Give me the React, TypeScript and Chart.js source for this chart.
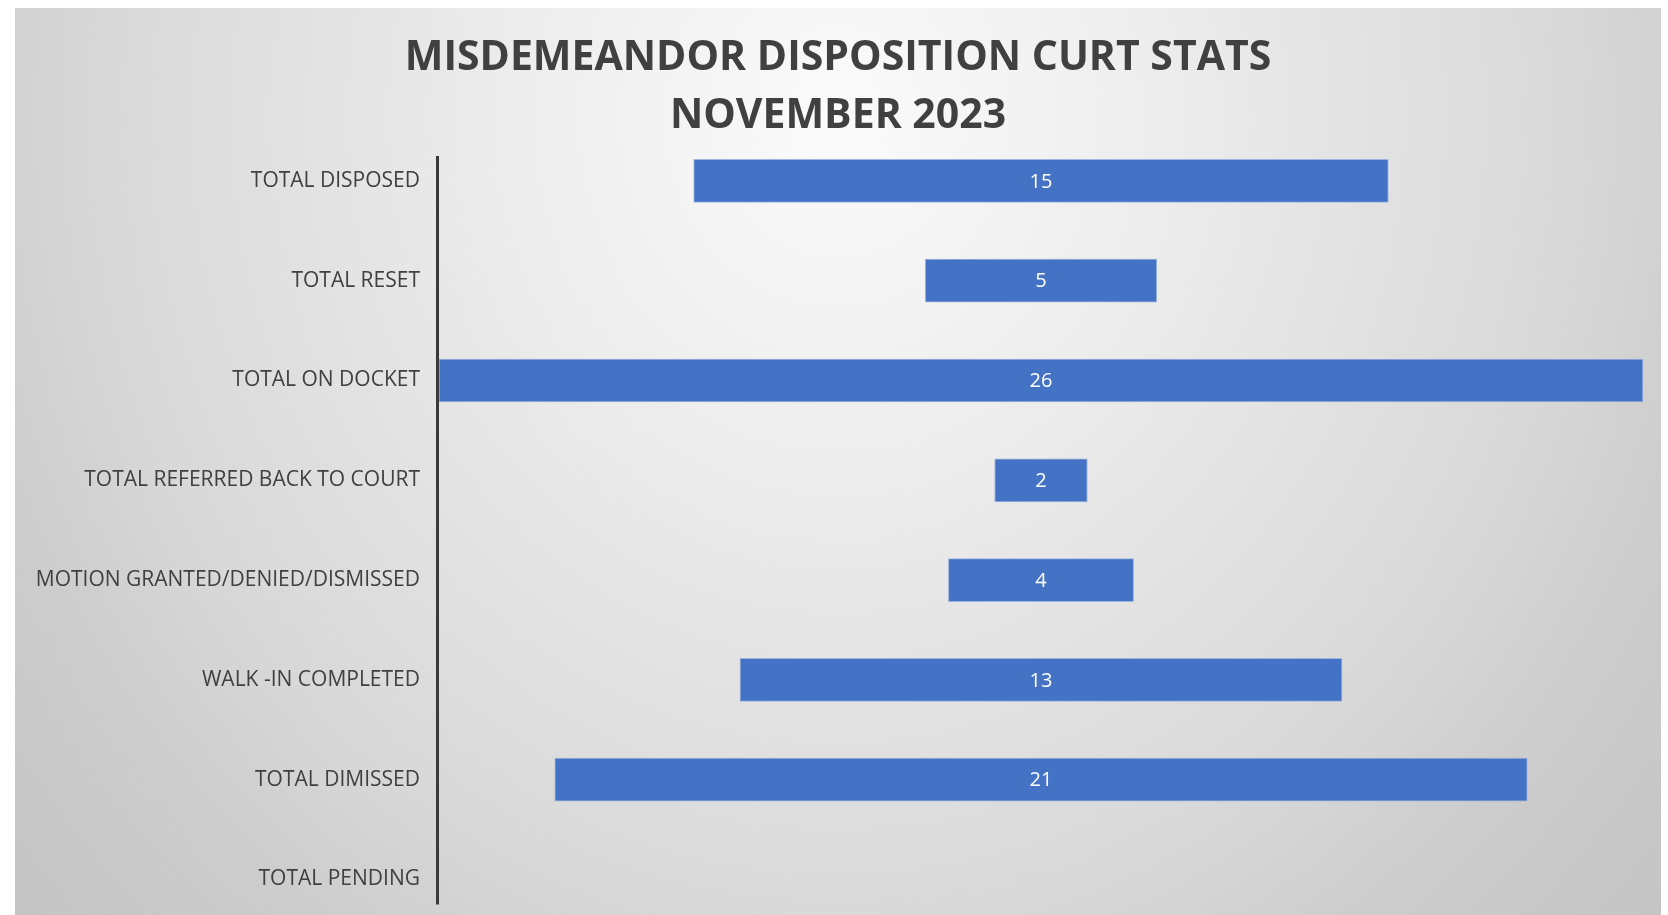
import React, { useEffect, useRef } from "react";
import { Chart, registerables } from "chart.js";

Chart.register(...registerables);

const TITLE_LINES = ["MISDEMEANDOR DISPOSITION CURT STATS", "NOVEMBER 2023"];
const CATEGORIES = [
  "TOTAL DISPOSED",
  "TOTAL RESET",
  "TOTAL ON DOCKET",
  "TOTAL REFERRED BACK TO COURT",
  "MOTION GRANTED/DENIED/DISMISSED",
  "WALK -IN COMPLETED",
  "TOTAL DIMISSED",
  "TOTAL PENDING",
];
const VALUES = [15, 5, 26, 2, 4, 13, 21, 0];
const X_HALF_RANGE = 13;

const FONT = "'Open Sans', 'Noto Sans', sans-serif";
const TEXT_COLOR = "#404040";
const BAR_COLOR = "#4472C4";

const W = 1646;
const H = 945;

export default function App() {
  const ref = useRef<HTMLCanvasElement | null>(null);

  useEffect(() => {
    if (!ref.current) return;

    const extras = {
      id: "extras",
      afterDatasetsDraw(chart: any) {
        const { ctx, chartArea } = chart;
        const meta = chart.getDatasetMeta(0);
        ctx.save();
        // data labels
        ctx.fillStyle = "#ffffff";
        ctx.font = `20px ${FONT}`;
        ctx.textAlign = "center";
        ctx.textBaseline = "middle";
        meta.data.forEach((bar: any, i: number) => {
          if (!VALUES[i]) return;
          ctx.fillText(String(VALUES[i]), (bar.x + bar.base) / 2, bar.y + 1);
        });
        // axis line
        const band = (chartArea.bottom - chartArea.top) / CATEGORIES.length;
        ctx.strokeStyle = "#3a3a3a";
        ctx.lineWidth = 3;
        ctx.beginPath();
        ctx.moveTo(chartArea.left - 1.5, chartArea.top + band * 0.25);
        ctx.lineTo(chartArea.left - 1.5, chartArea.bottom - band * 0.25);
        ctx.stroke();
        // title
        ctx.fillStyle = TEXT_COLOR;
        ctx.font = `bold 41px ${FONT}`;
        const cx = chart.width / 2;
        ctx.fillText(TITLE_LINES[0], cx, 50);
        ctx.fillText(TITLE_LINES[1], cx, 108);
        ctx.restore();
      },
    };

    const chart = new Chart(ref.current, {
      type: "bar",
      data: {
        labels: CATEGORIES,
        datasets: [
          {
            data: VALUES.map((v) => [-v / 2, v / 2]) as any,
            backgroundColor: BAR_COLOR,
            borderColor: "rgba(150,175,220,0.9)",
            borderWidth: 1,
            borderSkipped: false,
            barThickness: 43,
          },
        ],
      },
      options: {
        indexAxis: "y",
        responsive: false,
        animation: false,
        layout: { padding: { top: 123, right: 18, bottom: 10, left: 0 } },
        plugins: {
          legend: { display: false },
          title: { display: false },
          tooltip: { enabled: false },
        },
        scales: {
          x: {
            display: false,
            min: -X_HALF_RANGE,
            max: X_HALF_RANGE,
          },
          y: {
            offset: true,
            grid: { display: false },
            border: { display: false },
            ticks: {
              color: TEXT_COLOR,
              font: { family: FONT, size: 21 },
              padding: 11,
            },
            afterFit: (s: any) => {
              s.width = 424;
            },
          },
        },
      },
      plugins: [extras],
    });

    return () => chart.destroy();
  }, []);

  return (
    <div
      style={{
        position: "fixed",
        left: 15,
        top: 8,
        width: W,
        height: 907,
        overflow: "hidden",
        background:
          "radial-gradient(ellipse 60% 120% at 50% 12%, #fbfbfb 0%, #eeeeee 30%, #d8d8d8 75%, #cdcdcd 90%, #c4c4c4 112%)",
      }}
    >
      <canvas ref={ref} width={W} height={H} style={{ display: "block", width: W, height: H }} />
    </div>
  );
}
